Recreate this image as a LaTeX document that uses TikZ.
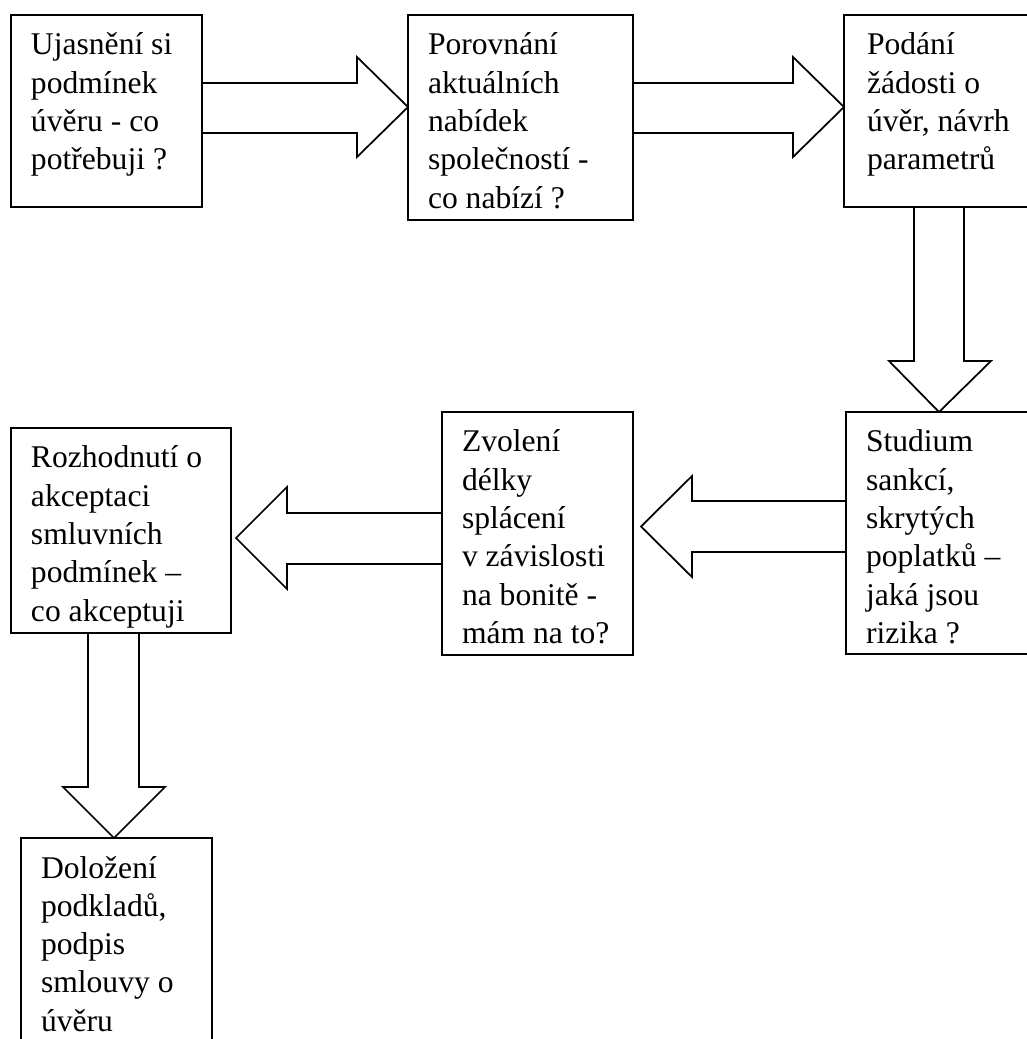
\documentclass[tikz,border=0pt]{standalone}
\usepackage{fontspec}
\setmainfont{Liberation Serif}
\usetikzlibrary{calc}
\begin{document}
\begin{tikzpicture}[x=0.75pt,y=-0.75pt,
  box/.style={draw=black,line width=1.3pt,rectangle,inner sep=0pt,outer sep=0pt,anchor=north west},
  txt/.style={anchor=north west,inner sep=0pt,outer sep=0pt,align=left,font=\fontsize{23.7}{28.7}\selectfont},
  blk/.style={draw=black,line width=1.3pt,line join=miter}]
\useasboundingbox (0,0) rectangle (1027,1039);
\clip (0,0) rectangle (1027,1039);
% boxes
\node[box,minimum width=143.25pt,minimum height=144pt] (b1) at (11,15) {};
\node[box,minimum width=168.75pt,minimum height=153.75pt] (b2) at (408,15) {};
\node[box,minimum width=150pt,minimum height=144pt] (b3) at (844,15) {};
\node[box,minimum width=150pt,minimum height=181.5pt] (b4) at (846,412) {};
\node[box,minimum width=143.25pt,minimum height=182.25pt] (b5) at (442,412) {};
\node[box,minimum width=165pt,minimum height=153.75pt] (b6) at (11,428) {};
\node[box,minimum width=143.25pt,minimum height=165pt] (b7) at (21,838) {};
% texts
\node[txt] (t1) at ($(b1.north west)+(20,13.2)$) {\strut Ujasnění si\\podmínek\\úvěru - co\\potřebuji ?};
\node[txt] (t2) at ($(b2.north west)+(20,13.2)$) {\strut Porovnání\\aktuálních\\nabídek\\společností -\\co nabízí ?};
\node[txt] (t3) at ($(b3.north west)+(23,13.2)$) {\strut Podání\\žádosti o\\úvěr, návrh\\parametrů};
\node[txt] (t4) at ($(b4.north west)+(20,13.2)$) {\strut Studium\\sankcí,\\skrytých\\poplatků –\\jaká jsou\\rizika ?};
\node[txt] (t5) at ($(b5.north west)+(20,13.2)$) {\strut Zvolení\\délky\\splácení\\v závislosti\\na bonitě -\\mám na to?};
\node[txt] (t6) at ($(b6.north west)+(20,13.2)$) {\strut Rozhodnutí o\\akceptaci\\smluvních\\podmínek –\\co akceptuji};
\node[txt] (t7) at ($(b7.north west)+(20,13.2)$) {\strut Doložení\\podkladů,\\podpis\\smlouvy o\\úvěru};
% block arrow b1 -> b2
\draw[blk] (b1.east |- 0,83) -- ($(b2.west |- 0,83)+(-51,0)$) -- ($(b2.west |- 0,57)+(-51,0)$)
  -- (b2.west |- 0,107) -- ($(b2.west |- 0,157)+(-51,0)$) -- ($(b2.west |- 0,133)+(-51,0)$) -- (b1.east |- 0,133);
% block arrow b2 -> b3
\draw[blk] (b2.east |- 0,83) -- ($(b3.west |- 0,83)+(-51,0)$) -- ($(b3.west |- 0,57)+(-51,0)$)
  -- (b3.west |- 0,107) -- ($(b3.west |- 0,157)+(-51,0)$) -- ($(b3.west |- 0,133)+(-51,0)$) -- (b2.east |- 0,133);
% block arrow b3 -> b4 (down)
\draw[blk] (914,0 |- b3.south) -- ($(914,0 |- b4.north)+(0,-51)$) -- ($(889,0 |- b4.north)+(0,-51)$)
  -- (939,0 |- b4.north) -- ($(991,0 |- b4.north)+(0,-51)$) -- ($(964,0 |- b4.north)+(0,-51)$) -- (964,0 |- b3.south);
% block arrow b4 -> b5 (left)
\draw[blk] (b4.west |- 0,501) -- ($(b5.east |- 0,501)+(59,0)$) -- ($(b5.east |- 0,476)+(59,0)$)
  -- ($(b5.east |- 0,526.5)+(8,0)$) -- ($(b5.east |- 0,577)+(59,0)$) -- ($(b5.east |- 0,552)+(59,0)$) -- (b4.west |- 0,552);
% block arrow b5 -> b6 (left)
\draw[blk] (b5.west |- 0,513) -- ($(b6.east |- 0,513)+(56,0)$) -- ($(b6.east |- 0,487)+(56,0)$)
  -- ($(b6.east |- 0,538)+(5,0)$) -- ($(b6.east |- 0,589)+(56,0)$) -- ($(b6.east |- 0,564)+(56,0)$) -- (b5.west |- 0,564);
% block arrow b6 -> b7 (down)
\draw[blk] (88,0 |- b6.south) -- ($(88,0 |- b7.north)+(0,-51)$) -- ($(63,0 |- b7.north)+(0,-51)$)
  -- (114,0 |- b7.north) -- ($(165,0 |- b7.north)+(0,-51)$) -- ($(139,0 |- b7.north)+(0,-51)$) -- (139,0 |- b6.south);
\end{tikzpicture}
\end{document}
